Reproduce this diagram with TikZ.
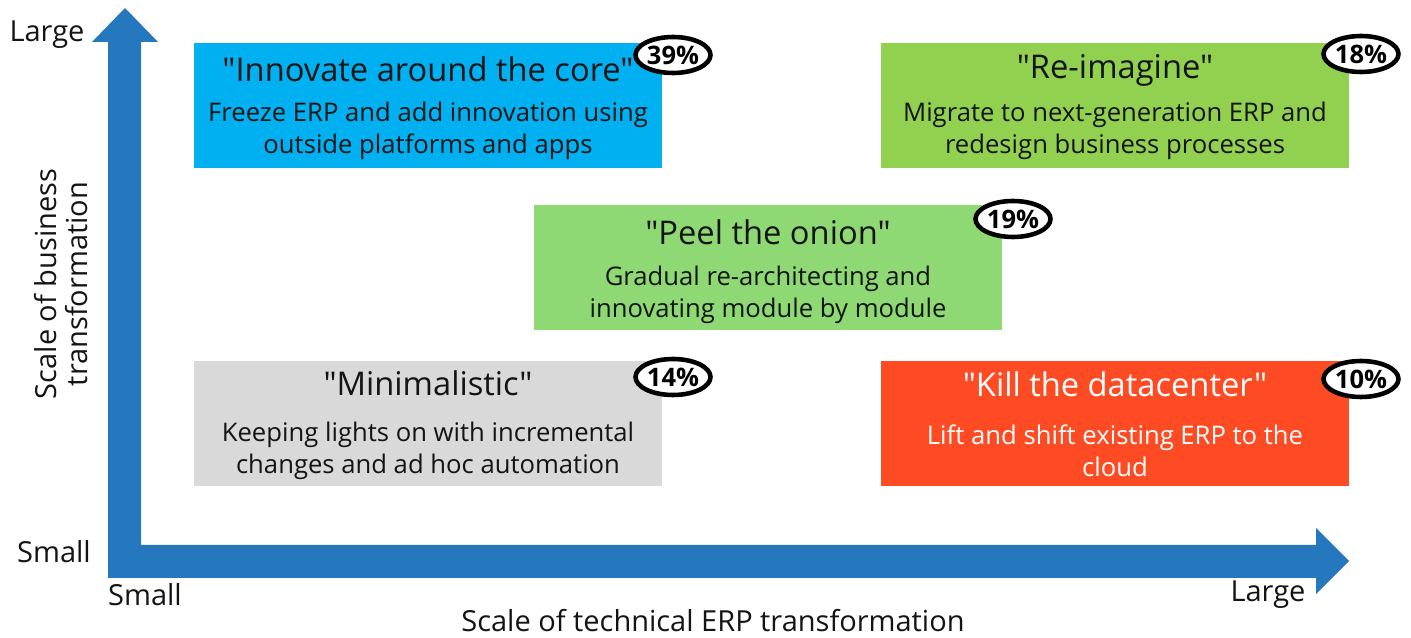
\documentclass[tikz,border=0pt]{standalone}
\usepackage{fontspec}
\setmainfont{Open Sans}[Ligatures=TeXOff]
\usetikzlibrary{calc,shapes.geometric}
\definecolor{axisblue}{HTML}{2577BE}
\definecolor{cblue}{HTML}{00B0F0}
\definecolor{cgreen}{HTML}{92D050}
\definecolor{clgreen}{HTML}{8ED973}
\definecolor{cgrey}{HTML}{D9D9D9}
\definecolor{cred}{HTML}{FF4B23}
\definecolor{ctext}{HTML}{141414}
\tikzset{
  quad/.style={draw=none, minimum width=9.36cm, minimum height=2.5cm, inner sep=0pt},
  ttl/.style={font=\fontsize{18.6}{20}\selectfont, text=ctext, inner sep=0pt},
  body/.style={font=\fontsize{14.6}{18.1}\selectfont, text=ctext, align=center, inner sep=0pt},
  badge/.style={ellipse, draw=black, line width=2.6pt, fill=white, minimum width=1.5cm, minimum height=0.72cm, inner sep=0pt, font=\fontsize{14.5}{16}\selectfont\bfseries},
  axlab/.style={font=\fontsize{16.5}{17.8}\selectfont, text=ctext, inner sep=0pt, align=center}
}
\begin{document}
\begin{tikzpicture}[x=0.02cm,y=-0.02cm]
\useasboundingbox (0,0) rectangle (1411,638);
% axes
\fill[axisblue] (125,8) -- (158,42) -- (141,42) -- (141,545) -- (1316,545) -- (1316,528) -- (1349,561) -- (1316,594) -- (1316,578) -- (108,578) -- (108,42) -- (92,42) -- cycle;
% boxes
\node[quad, fill=cblue]   (b1) at (428,105.5) {};
\node[quad, fill=cgreen]  (b2) at (1115,105.5) {};
\node[quad, fill=clgreen] (b3) at (768,267.5) {};
\node[quad, fill=cgrey]   (b4) at (428,423.5) {};
\node[quad, fill=cred]    (b5) at (1115,423.5) {};
% titles and bodies
\node[ttl] (t1) at ($(b1.north)+(0,27)$) {"Innovate around the core"};
\node[body] (d1) at ($(b1.north)+(0,88)$) {Freeze ERP and add innovation using\\outside platforms and apps};
\node[ttl] (t2) at ($(b2.north)+(0,28)$) {"Re-imagine"};
\node[body] (d2) at ($(b2.north)+(0,88)$) {Migrate to next-generation ERP and\\redesign business processes};
\node[ttl] (t3) at ($(b3.north)+(0,28)$) {"Peel the onion"};
\node[body] (d3) at ($(b3.north)+(0,90)$) {Gradual re-architecting and\\innovating module by module};
\node[ttl] (t4) at ($(b4.north)+(0,23)$) {"Minimalistic"};
\node[body] (d4) at ($(b4.north)+(0,90)$) {Keeping lights on with incremental\\changes and ad hoc automation};
\node[ttl, text=white] (t5) at ($(b5.north)+(0,24)$) {"Kill the datacenter"};
\node[body, text=white] (d5) at ($(b5.north)+(0,90)$) {Lift and shift existing ERP to the\\cloud};
% badges
\node[badge] (p1) at (673,55) {39\%};
\node[badge] (p2) at (1361,54) {18\%};
\node[badge] (p3) at (1013,219) {19\%};
\node[badge] (p4) at (673,377) {14\%};
\node[badge] (p5) at (1361,379) {10\%};
% axis labels
\node[axlab] (yl) at (47,35) {Large};
\node[axlab] (ys) at (54,552) {Small};
\node[axlab] (xs) at (145,595) {Small};
\node[axlab] (xl) at (1268,595) {Large};
\node[axlab] (xt) at (713,621) {Scale of technical ERP transformation};
\node[axlab, rotate=90] (yt) at (61,284) {Scale of business\\transformation};
\end{tikzpicture}
\end{document}
